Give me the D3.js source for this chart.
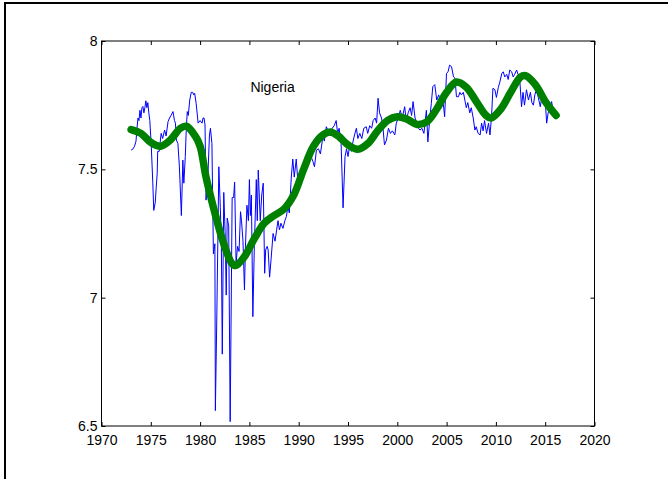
<!DOCTYPE html>
<html>
<head>
<meta charset="utf-8">
<script src="https://cdn.jsdelivr.net/npm/d3@7"></script>
<style>
  body { margin: 0; background: #fff; }
  svg { display: block; font-family: "Liberation Sans", Arial, sans-serif; }
</style>
</head>
<body>
<svg id="chart" width="668" height="479"></svg>
<script>
// monthly-ish index (blue)
var rawYears = [1973.0,1973.2,1973.35,1973.5,1973.6,1973.7,1973.8,1973.9,1974.0,1974.1,1974.2,1974.3,1974.4,1974.5,1974.6,1974.7,1974.8,1974.9,
  1975.05,1975.2,1975.3,1975.45,1975.55,1975.65,1975.7,1975.85,1976.05,1976.2,1976.4,1976.55,1976.75,1976.9,1977.05,1977.25,1977.4,1977.5,1977.6,1977.75,1977.9,
  1978.1,1978.25,1978.35,1978.5,1978.6,1978.7,1978.8,1978.95,1979.1,1979.25,1979.35,1979.45,1979.6,1979.8,1980.0,1980.2,1980.3,1980.4,1980.5,1980.6,1980.8,1980.95,
  1981.05,1981.2,1981.35,1981.5,1981.55,1981.7,1981.9,1982.05,1982.15,1982.25,1982.4,1982.55,1982.65,1982.75,1982.9,1983.05,1983.25,1983.4,1983.5,1983.65,1983.8,1983.95,
  1984.1,1984.2,1984.35,1984.5,1984.6,1984.75,1984.9,1985.0,1985.1,1985.2,1985.35,1985.5,1985.7,1985.8,1985.9,1986.1,1986.25,1986.4,1986.55,1986.65,1986.8,1986.9,
  1987.05,1987.2,1987.4,1987.6,1987.75,1987.9,1988.05,1988.2,1988.4,1988.6,1988.75,1988.9,1989.05,1989.25,1989.4,1989.55,1989.75,1989.9,
  1990.1,1990.3,1990.5,1990.65,1990.8,1990.95,1991.1,1991.3,1991.45,1991.6,1991.8,1992.0,1992.2,1992.45,1992.6,1992.8,1993.0,1993.2,1993.4,1993.6,1993.8,1993.95,
  1994.1,1994.3,1994.5,1994.7,1994.85,1995.0,1995.2,1995.35,1995.5,1995.7,1995.85,1996.0,1996.2,1996.4,1996.6,1996.85,1997.0,1997.2,1997.4,1997.55,1997.75,1997.9,
  1998.05,1998.2,1998.4,1998.55,1998.7,1998.9,1999.1,1999.3,1999.5,1999.75,1999.9,2000.1,2000.3,2000.5,2000.75,2000.9,2001.1,2001.3,2001.45,2001.6,2001.8,
  2002.0,2002.15,2002.3,2002.5,2002.7,2002.95,2003.1,2003.3,2003.45,2003.6,2003.8,2004.0,2004.2,2004.4,2004.6,2004.8,2004.99,2005.15,2005.3,2005.5,2005.7,2005.85,
  2006.0,2006.2,2006.35,2006.5,2006.7,2006.85,2007.0,2007.15,2007.35,2007.5,2007.7,2007.87,2008.0,2008.2,2008.4,2008.55,2008.7,2008.85,2009.05,2009.25,2009.4,2009.55,2009.7,2009.9,
  2010.05,2010.25,2010.4,2010.6,2010.75,2010.9,2011.1,2011.25,2011.4,2011.6,2011.75,2011.9,2012.1,2012.25,2012.4,2012.6,2012.75,2012.9,2013.1,2013.3,2013.5,2013.65,2013.8,2013.95,
  2014.1,2014.3,2014.5,2014.7,2014.85,2015.0,2015.15,2015.3,2015.45,2015.65,2015.8];
var rawValues = [7.575,7.58,7.59,7.61,7.66,7.70,7.69,7.73,7.70,7.74,7.745,7.72,7.74,7.767,7.74,7.76,7.72,7.69,
  7.59,7.45,7.34,7.37,7.43,7.485,7.57,7.57,7.64,7.62,7.653,7.63,7.686,7.70,7.71,7.725,7.69,7.68,7.614,7.60,7.51,
  7.32,7.536,7.446,7.55,7.66,7.725,7.71,7.77,7.80,7.80,7.79,7.796,7.757,7.68,7.69,7.68,7.70,7.70,7.673,7.38,7.485,7.634,
  7.66,7.60,7.17,7.21,6.56,6.94,7.51,7.35,7.225,6.78,7.41,7.24,7.01,7.31,7.28,6.517,7.39,7.39,7.45,7.134,7.20,7.18,
  7.335,7.30,7.22,7.03,7.20,7.36,7.30,7.46,7.32,7.40,6.926,7.20,7.46,7.30,7.497,7.30,7.40,7.446,7.095,7.186,7.20,7.186,
  7.08,7.15,7.25,7.22,7.26,7.30,7.264,7.29,7.27,7.30,7.316,7.355,7.33,7.47,7.54,7.47,7.54,7.46,
  7.47,7.51,7.49,7.53,7.556,7.57,7.54,7.545,7.53,7.51,7.575,7.58,7.56,7.627,7.61,7.666,7.65,7.63,7.66,7.67,7.69,7.64,
  7.66,7.60,7.35,7.55,7.58,7.55,7.60,7.57,7.607,7.64,7.66,7.62,7.64,7.62,7.66,7.666,7.64,7.67,7.66,7.69,7.70,7.68,
  7.777,7.72,7.70,7.66,7.595,7.614,7.66,7.64,7.65,7.634,7.68,7.70,7.73,7.70,7.744,7.69,7.72,7.74,7.71,7.764,7.70,
  7.68,7.66,7.653,7.66,7.64,7.73,7.607,7.70,7.757,7.822,7.83,7.77,7.79,7.76,7.78,7.705,7.874,7.88,7.906,7.90,7.86,7.855,
  7.783,7.783,7.80,7.79,7.80,7.77,7.74,7.76,7.72,7.74,7.70,7.653,7.666,7.64,7.634,7.68,7.65,7.69,7.64,7.68,7.634,7.70,7.816,7.81,
  7.78,7.82,7.84,7.874,7.88,7.86,7.87,7.85,7.887,7.88,7.86,7.87,7.887,7.87,7.86,7.744,7.80,7.75,7.81,7.77,7.80,7.76,7.75,7.79,
  7.81,7.78,7.744,7.79,7.76,7.77,7.68,7.72,7.74,7.764,7.73];

// smooth trend (green)
var trendYears = [1973.0,1974,1975,1976,1977,1978,1978.6,1979.5,1980,1980.6,1981.5,1982.4,1983.2,1983.6,1984.5,1985.5,1986.5,1987.5,1988.5,1989.5,
  1990.5,1991.5,1992.5,1993.2,1994,1995,1996,1997,1998,1999,2000,2001,2002,2003,2004,2005,2006,2007,2008,2009,2009.5,2010.5,2011.5,2012.5,2013,2014,2015,2016.1];
var trendValues = [7.655,7.64,7.605,7.59,7.615,7.66,7.668,7.63,7.59,7.47,7.33,7.21,7.135,7.125,7.16,7.23,7.29,7.32,7.345,7.40,
  7.50,7.59,7.635,7.645,7.63,7.595,7.578,7.60,7.65,7.69,7.705,7.695,7.675,7.685,7.735,7.80,7.84,7.82,7.765,7.71,7.70,7.735,7.80,7.86,7.865,7.83,7.765,7.71];

var xTicks = [1970,1975,1980,1985,1990,1995,2000,2005,2010,2015,2020];
var yTicks = [6.5,7,7.5,8];
var label = "Nigeria";

var svg = d3.select("#chart"),
  plotLeft = 101.5, plotRight = 594.5, plotTop = 41, plotBottom = 426;

// outer frame pieces
svg.append("path")
  .attr("d", "M5,479V3H668")
  .attr("fill", "none")
  .attr("stroke", "#000")
  .attr("stroke-width", 2);

var x = d3.scaleLinear().domain([1970, 2020]).range([plotLeft, plotRight]);
var y = d3.scaleLinear().domain([6.5, 8]).range([plotBottom, plotTop]);

var g = svg.append("g");

var blue = rawYears.map(function(d, i){ return [d, rawValues[i]]; });
var green = trendYears.map(function(d, i){ return [d, trendValues[i]]; });

g.append("path")
  .datum(blue)
  .attr("fill", "none")
  .attr("stroke", "#0000ff")
  .attr("stroke-width", 1)
  .attr("d", d3.line().x(function(d){ return x(d[0]); }).y(function(d){ return y(d[1]); }));

g.append("path")
  .datum(green)
  .attr("fill", "none")
  .attr("stroke", "#008000")
  .attr("stroke-width", 7.5)
  .attr("stroke-linecap", "round")
  .attr("stroke-linejoin", "round")
  .attr("d", d3.line().curve(d3.curveCatmullRom).x(function(d){ return x(d[0]); }).y(function(d){ return y(d[1]); }));

g.append("text")
  .attr("x", x(1985.1))
  .attr("y", y(7.8))
  .attr("font-size", 14)
  .text(label);

// axes, ticks inward like matlab
function tickStyle(sel){
  sel.select(".domain").remove();
  sel.selectAll("line").attr("stroke", "#000");
  sel.selectAll("text").attr("fill", "#000").attr("font-size", 14).attr("font-family", "Liberation Sans, Arial, sans-serif");
}

svg.append("g")
  .attr("transform", "translate(0," + plotBottom + ")")
  .call(d3.axisBottom(x).tickValues(xTicks).tickFormat(d3.format("d")).tickSizeInner(-4).tickSizeOuter(0).tickPadding(9.5))
  .call(tickStyle);

svg.append("g")
  .attr("transform", "translate(0," + plotTop + ")")
  .call(d3.axisTop(x).tickValues(xTicks).tickFormat("").tickSizeInner(-4).tickSizeOuter(0))
  .call(tickStyle);

svg.append("g")
  .attr("transform", "translate(" + plotLeft + ",0)")
  .call(d3.axisLeft(y).tickValues(yTicks).tickFormat(function(d){ return d; }).tickSizeInner(-4).tickSizeOuter(0).tickPadding(4))
  .call(tickStyle);

svg.append("g")
  .attr("transform", "translate(" + plotRight + ",0)")
  .call(d3.axisRight(y).tickValues(yTicks).tickFormat("").tickSizeInner(-4).tickSizeOuter(0))
  .call(tickStyle);

svg.append("rect")
  .attr("x", plotLeft).attr("y", plotTop)
  .attr("width", plotRight - plotLeft).attr("height", plotBottom - plotTop)
  .attr("fill", "none")
  .attr("stroke", "#000")
  .attr("stroke-width", 1);
</script>
</body>
</html>
